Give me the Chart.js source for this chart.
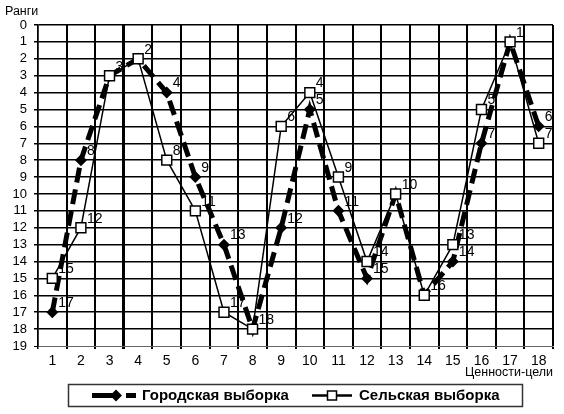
<!DOCTYPE html>
<html>
<head>
<meta charset="utf-8">
<script src="https://cdn.jsdelivr.net/npm/chart.js@4.4.1/dist/chart.umd.min.js"></script>
<style>
    html, body { margin: 0; padding: 0; background: #fff; }
    #wrap { width: 564px; height: 414px; }
</style>
</head>
<body>
<div id="wrap"><canvas id="ranks-chart" width="564" height="414"></canvas></div>
<script>
// ---- Данные ----
const categories = ['1', '2', '3', '4', '5', '6', '7', '8', '9',
                    '10', '11', '12', '13', '14', '15', '16', '17', '18'];
const cityRanks  = [17, 8, 3, 2, 4, 9, 13, 18, 12, 5, 11, 15, 10, 16, 14, 7, 1, 6];
const ruralRanks = [15, 12, 3, 2, 8, 11, 17, 18, 6, 4, 9, 14, 10, 16, 13, 5, 1, 7];
const rankMin = 0;
const rankMax = 19;
const seriesNames = ['Городская выборка', 'Сельская выборка'];
const yTitle = 'Ранги';
const xTitle = 'Ценности-цели';

const FONT = "'Liberation Sans', Arial, Helvetica, sans-serif";

// Подписи значений у точек (совпадающие точки подписываются один раз)
const pointLabels = {
    id: 'pointLabels',
    afterDatasetsDraw(chart) {
        const ctx = chart.ctx;
        const sets = chart.data.datasets;
        ctx.save();
        ctx.font = '14px ' + FONT;
        ctx.fillStyle = '#000';
        ctx.textAlign = 'left';
        ctx.textBaseline = 'middle';
        sets.forEach((ds, di) => {
            const meta = chart.getDatasetMeta(di);
            meta.data.forEach((pt, i) => {
                if (di === 0 && sets[1].data[i] === ds.data[i]) return;
                ctx.fillText(String(ds.data[i]), pt.x + 6, pt.y - 9);
            });
        });
        ctx.restore();
    }
};

// Заголовки осей и легенда в рамке
const frameTexts = {
    id: 'frameTexts',
    afterDraw(chart) {
        const ctx = chart.ctx;
        const area = chart.chartArea;
        ctx.save();
        ctx.fillStyle = '#000';
        ctx.font = '12.5px ' + FONT;
        ctx.textBaseline = 'middle';
        ctx.textAlign = 'left';
        ctx.fillText(yTitle, 5, 12);
        ctx.textAlign = 'right';
        ctx.fillText(xTitle, area.right, 373);

        // рамка легенды
        ctx.strokeStyle = '#333';
        ctx.lineWidth = 1.5;
        ctx.strokeRect(68.5, 384.5, 454, 22);

        const ly = 395.5;
        const city = chart.data.datasets[0];
        const rural = chart.data.datasets[1];

        // символ городской выборки
        ctx.strokeStyle = city.borderColor;
        ctx.lineWidth = city.borderWidth;
        ctx.setLineDash([26, 8, 10]);
        ctx.beginPath();
        ctx.moveTo(92, ly);
        ctx.lineTo(136, ly);
        ctx.stroke();
        ctx.setLineDash([]);
        ctx.fillStyle = city.pointBackgroundColor;
        ctx.beginPath();
        ctx.moveTo(116, ly - 6);
        ctx.lineTo(122, ly);
        ctx.lineTo(116, ly + 6);
        ctx.lineTo(110, ly);
        ctx.closePath();
        ctx.fill();

        // символ сельской выборки
        ctx.strokeStyle = rural.borderColor;
        ctx.lineWidth = 2.5;
        ctx.beginPath();
        ctx.moveTo(312, ly);
        ctx.lineTo(352, ly);
        ctx.stroke();
        ctx.fillStyle = rural.pointBackgroundColor;
        ctx.lineWidth = 1.5;
        ctx.fillRect(327.5, ly - 4.5, 9, 9);
        ctx.strokeRect(327.5, ly - 4.5, 9, 9);

        ctx.fillStyle = '#000';
        ctx.font = 'bold 15px ' + FONT;
        ctx.textAlign = 'left';
        ctx.fillText(city.label, 142, ly + 0.5);
        ctx.fillText(rural.label, 359, ly + 0.5);
        ctx.restore();
    }
};

const chart = new Chart(document.getElementById('ranks-chart'), {
    type: 'line',
    data: {
        labels: categories,
        datasets: [{
            label: seriesNames[0],
            data: cityRanks,
            borderColor: '#000',
            borderWidth: 5,
            borderDash: [15, 7],
            borderCapStyle: 'butt',
            pointStyle: 'rectRot',
            pointRadius: 6,
            pointBackgroundColor: '#000',
            pointBorderColor: '#000',
            pointBorderWidth: 0,
            tension: 0,
            order: 1
        }, {
            label: seriesNames[1],
            data: ruralRanks,
            borderColor: '#000',
            borderWidth: 1.5,
            pointStyle: 'rect',
            pointRadius: 7,
            pointBackgroundColor: '#fff',
            pointBorderColor: '#000',
            pointBorderWidth: 1.5,
            tension: 0,
            order: 0
        }]
    },
    options: {
        responsive: false,
        animation: false,
        layout: { padding: { top: 25, right: 11, left: 0, bottom: 0 } },
        scales: {
            x: {
                type: 'category',
                offset: true,
                grid: {
                    offset: true,
                    color: '#000',
                    lineWidth: c => (c.index === 3 ? 3 : (c.index === 0 ? 1.5 : 2)),
                    drawTicks: true,
                    tickLength: 3,
                    tickColor: '#000'
                },
                border: { display: true, color: '#666', width: 1 },
                ticks: {
                    color: '#000',
                    font: { size: 14, family: FONT },
                    padding: 4,
                    autoSkip: false,
                    maxRotation: 0
                },
                afterFit(scale) { scale.height = 68; }
            },
            y: {
                reverse: true,
                min: rankMin,
                max: rankMax,
                grid: {
                    color: c => (c.tick && c.tick.value === rankMax ? '#666' : '#000'),
                    lineWidth: c => (c.tick && c.tick.value === rankMax ? 1 : 1.5),
                    drawTicks: true,
                    tickLength: 4,
                    tickColor: '#000'
                },
                border: { display: true, color: '#000', width: 1.5 },
                ticks: {
                    stepSize: 1,
                    autoSkip: false,
                    color: '#000',
                    font: { size: 13, family: FONT },
                    padding: 7
                },
                afterFit(scale) { scale.width = 38; }
            }
        },
        plugins: {
            legend: { display: false },
            tooltip: { enabled: false }
        }
    },
    plugins: [pointLabels, frameTexts]
});
</script>
</body>
</html>
